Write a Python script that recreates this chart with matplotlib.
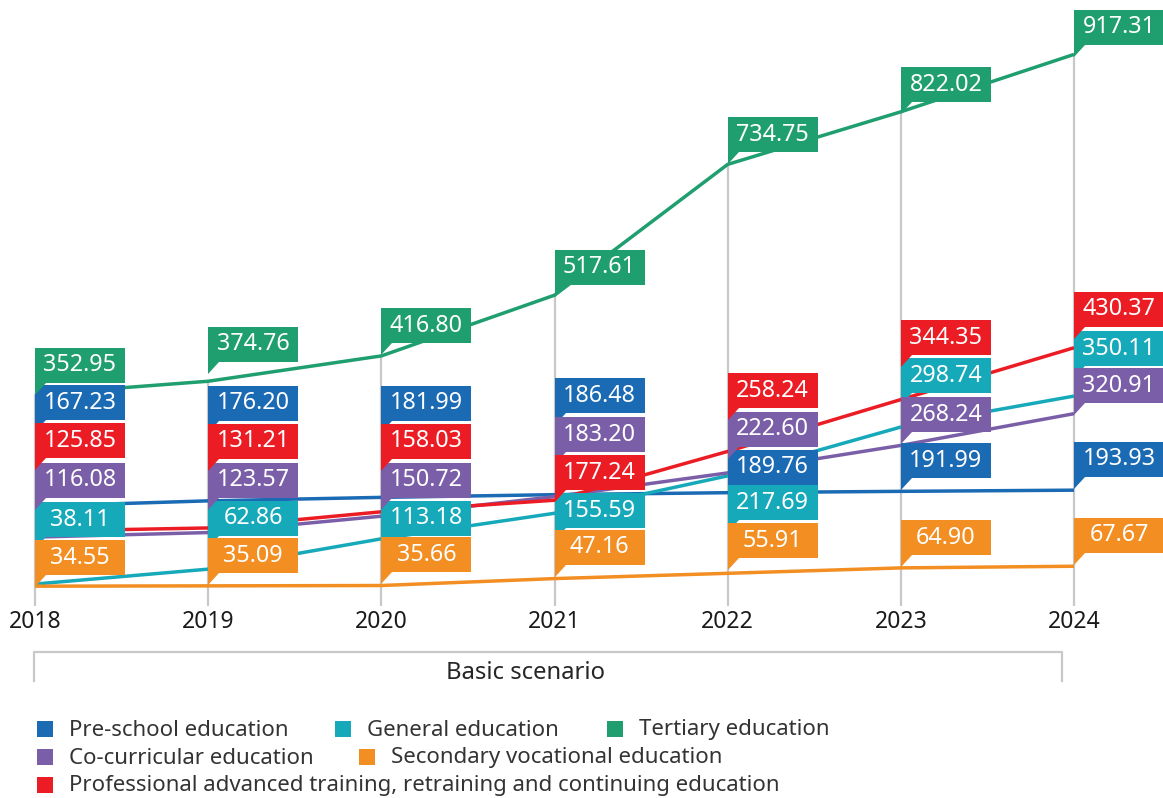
import matplotlib.pyplot as plt
from matplotlib.patches import Polygon, Rectangle
from matplotlib.lines import Line2D

plt.rcParams['font.family'] = ['Noto Sans', 'DejaVu Sans']

# data
years = [2018, 2019, 2020, 2021, 2022, 2023, 2024]
preschool = [167.23, 176.20, 181.99, 186.48, 189.76, 191.99, 193.93]
general = [38.11, 62.86, 113.18, 155.59, 217.69, 298.74, 350.11]
tertiary = [352.95, 374.76, 416.80, 517.61, 734.75, 822.02, 917.31]
cocurricular = [116.08, 123.57, 150.72, 183.20, 222.60, 268.24, 320.91]
vocational = [34.55, 35.09, 35.66, 47.16, 55.91, 64.90, 67.67]
professional = [125.85, 131.21, 158.03, 177.24, 258.24, 344.35, 430.37]

series = [
    ("Pre-school education", preschool, "#1b6ab4"),
    ("General education", general, "#16a9ba"),
    ("Tertiary education", tertiary, "#1f9e6f"),
    ("Co-curricular education", cocurricular, "#7a5fa8"),
    ("Secondary vocational education", vocational, "#f28e22"),
    ("Professional advanced training, retraining and continuing education", professional, "#ec1c24"),
]

# where the bottom of each callout box sits (value units), stacked by hand like the original
label_bottoms = {
    "Pre-school education": [310, 309, 309, 322, 203, 214, 216],
    "General education": [116, 118, 118, 131, 144, 355, 400],
    "Tertiary education": [372, 407, 438, 535, 755, 838, 933],
    "Co-curricular education": [181, 181, 181, 257, 266, 290, 338],
    "Secondary vocational education": [53, 56, 58, 70, 81, 86, 90],
    "Professional advanced training, retraining and continuing education": [247, 246, 246, 194, 330, 418, 465],
}

W, H = 1163, 798
fig = plt.figure(figsize=(W / 100, H / 100), dpi=100)

x0_px, px_per_year = 35, 173.17
zero_px, val_per_px = 607, 1.66
ax = fig.add_axes([0, (H - zero_px) / H, 1, zero_px / H])
ax.set_xlim(2018 - x0_px / px_per_year, 2018 + (W - x0_px) / px_per_year)
ax.set_ylim(0, zero_px * val_per_px)
for s in ax.spines.values():
    s.set_visible(False)
ax.set_yticks([])
ax.set_xticks(years)
ax.set_xticklabels([str(y) for y in years], fontsize=16.5, color="#1a1a1a")
ax.tick_params(axis="x", length=0, pad=2)

# drop lines from the highest series
ax.vlines(years, 2, tertiary, color="#c8c8c8", lw=1.6, zorder=1)

for name, vals, col in series:
    ax.plot(years, vals, color=col, lw=2.5, zorder=2, solid_capstyle="butt")

box_w = 90 / px_per_year
box_h = 35 * val_per_px
tail_w = 11 / px_per_year
tail_h = 12 * val_per_px
for name, vals, col in series:
    for yr, v, b in zip(years, vals, label_bottoms[name]):
        pts = [(yr, b - tail_h), (yr, b + box_h), (yr + box_w, b + box_h),
               (yr + box_w, b), (yr + tail_w, b)]
        ax.add_patch(Polygon(pts, closed=True, facecolor=col, edgecolor="none",
                             zorder=3, clip_on=False))
        ax.text(yr + box_w / 2, b + box_h / 2, f"{v:.2f}", color="white",
                fontsize=16.8, ha="center", va="center", zorder=4)

# multi-level category bracket
def fx(px):
    return px / W

def fy(py):
    return 1 - py / H

fig.add_artist(Line2D([fx(34), fx(34), fx(1062), fx(1062)],
                      [fy(681), fy(652), fy(652), fy(681)],
                      color="#c8c8c8", lw=1.6))
fig.text(fx(525), fy(673), "Basic scenario", fontsize=17.2, color="#262626",
         ha="center", va="center")

# legend laid out like the original
legend_pos = [(37, 729), (335, 729), (607, 729), (37, 757), (359, 757), (37, 785)]
for (name, vals, col), (lx, ly) in zip(series, legend_pos):
    fig.add_artist(Rectangle((fx(lx), fy(ly + 8)), 16 / W, 16 / H,
                             facecolor=col, edgecolor="none"))
    fig.text(fx(lx + 32), fy(ly + 1), name, fontsize=16.0, color="#333333",
             ha="left", va="center")

fig.savefig("out.png", dpi=100)
